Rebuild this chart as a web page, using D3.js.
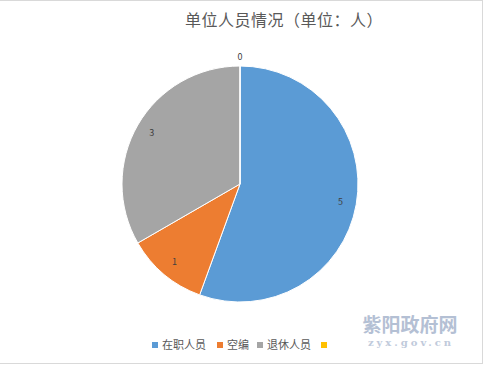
<!DOCTYPE html>
<html>
<head>
<meta charset="utf-8">
<script src="https://cdn.jsdelivr.net/npm/d3@7"></script>
<style>
  body { margin: 0; background: #fff; }
  text { font-family: "Noto Sans CJK SC", "Noto Sans", sans-serif; }
</style>
</head>
<body>
<script>
const categories = ['在职人员', '空编', '退休人员', ''];
const values = [5, 1, 3, 0];
const colors = ['#5B9BD5', '#ED7D31', '#A5A5A5', '#FFC000'];
const title = '单位人员情况（单位：人）';

const width = 485, height = 366;
const svg = d3.select('body').append('svg')
  .attr('width', width)
  .attr('height', height);

// frame lines
svg.append('line').attr('x1', 0).attr('x2', 483).attr('y1', 0.5).attr('y2', 0.5)
  .attr('stroke', '#d9d9d9');
svg.append('line').attr('x1', 482.5).attr('x2', 482.5).attr('y1', 0).attr('y2', 363)
  .attr('stroke', '#d9d9d9');
svg.append('line').attr('x1', 0).attr('x2', 483).attr('y1', 363.5).attr('y2', 363.5)
  .attr('stroke', '#d9d9d9');

svg.append('text')
  .attr('x', 284).attr('y', 26)
  .attr('text-anchor', 'middle')
  .attr('font-size', 16)
  .attr('letter-spacing', 0.5)
  .attr('fill', '#595959')
  .text(title);

const cx = 240, cy = 184, r = 118;
const pie = d3.pie().sort(null).value(d => d);
const arcs = pie(values);
const arc = d3.arc().innerRadius(0).outerRadius(r);
const labelArc = d3.arc().innerRadius(102).outerRadius(102);
const outArc = d3.arc().innerRadius(127).outerRadius(127);

const g = svg.append('g').attr('transform', `translate(${cx},${cy})`);

g.selectAll('path')
  .data(arcs)
  .enter().append('path')
  .attr('d', arc)
  .attr('fill', (d, i) => colors[i])
  .attr('stroke', '#fff')
  .attr('stroke-width', 1);

g.selectAll('text.lbl')
  .data(arcs)
  .enter().append('text')
  .attr('class', 'lbl')
  .attr('transform', d => `translate(${(d.value === 0 ? outArc : labelArc).centroid(d)})`)
  .attr('text-anchor', 'middle')
  .attr('dy', '0.35em')
  .attr('font-size', 9)
  .attr('fill', '#404040')
  .text(d => d.value);

// legend
const legendX = [152, 217, 257, 321];
const legend = svg.append('g');
categories.forEach((c, i) => {
  legend.append('rect')
    .attr('x', legendX[i]).attr('y', 342)
    .attr('width', 6).attr('height', 6)
    .attr('fill', colors[i]);
  legend.append('text')
    .attr('x', legendX[i] + 10).attr('y', 349)
    .attr('font-size', 11)
    .attr('fill', '#595959')
    .text(c);
});

// watermark
svg.append('text')
  .attr('x', 410).attr('y', 332)
  .attr('text-anchor', 'middle')
  .attr('font-size', 19)
  .attr('font-weight', 'bold')
  .attr('fill', '#b4c0d4')
  .text('紫阳政府网');
svg.append('text')
  .attr('x', 411).attr('y', 346)
  .attr('text-anchor', 'middle')
  .attr('font-size', 10)
  .attr('font-weight', 'bold')
  .attr('letter-spacing', 3)
  .style('font-family', '"DejaVu Serif", serif')
  .attr('fill', '#c0cadb')
  .text('zyx.gov.cn');
</script>
</body>
</html>
